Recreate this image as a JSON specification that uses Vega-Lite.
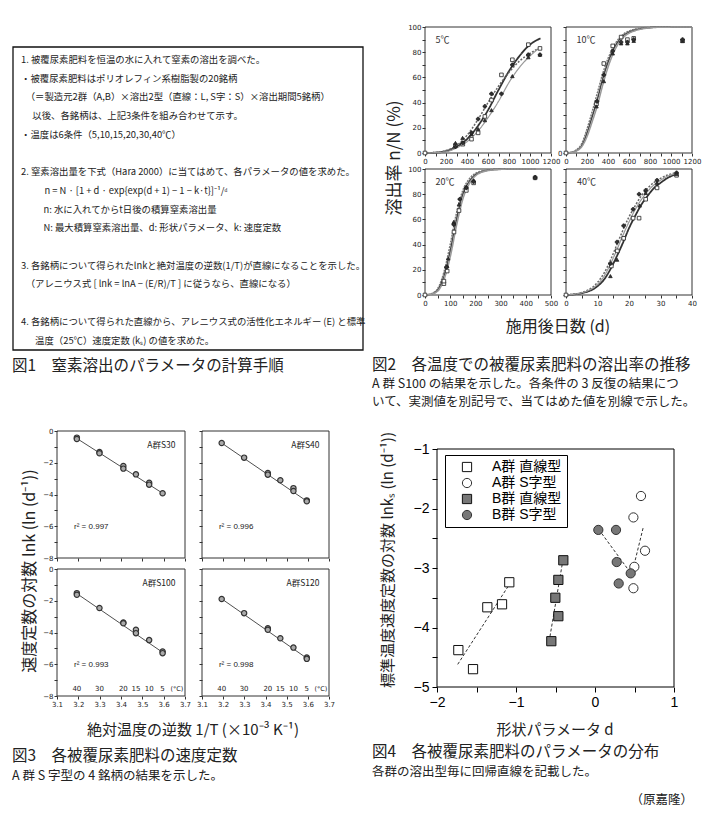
{
"$schema": "https://vega.github.io/schema/vega-lite/v6.json",
"width": 705, "height": 820,
"autosize": {"type": "none"},
"padding": 0,
"background": "white",
"datasets": {
"box": [
{"line":1,"t":"1. 被覆尿素肥料を恒温の水に入れて窒素の溶出を調べた。"},
{"line":2,"t":"・被覆尿素肥料はポリオレフィン系樹脂製の20銘柄"},
{"line":3,"t":"\u200b\u2002（＝製造元2群（A,B）×溶出2型（直線：L, S字：S）×溶出期間5銘柄）"},
{"line":4,"t":"\u200b\u3000\u2009以後、各銘柄は、上記3条件を組み合わせて示す。"},
{"line":5,"t":"・温度は6条件（5,10,15,20,30,40℃）"},
{"line":7,"t":"2. 窒素溶出量を下式（Hara 2000）に当てはめて、各パラメータの値を求めた。"},
{"line":8,"t":"\u200b\u3000\u3000\u2002n = N · [1 + d · exp{exp(d + 1) − 1 − k·t}]⁻¹/ᵈ"},
{"line":9,"t":"\u200b\u3000\u3000\u2009\u2009n: 水に入れてからt日後の積算窒素溶出量"},
{"line":10,"t":"\u200b\u3000\u3000\u2009\u2009N: 最大積算窒素溶出量、d: 形状パラメータ、k: 速度定数"},
{"line":12,"t":"3. 各銘柄について得られたlnkと絶対温度の逆数(1/T)が直線になることを示した。"},
{"line":13,"t":"\u200b\u3000（アレニウス式 [ lnk = lnA − (E/R)/T ] に従うなら、直線になる）"},
{"line":15,"t":"4. 各銘柄について得られた直線から、アレニウス式の活性化エネルギー (E) と標準"},
{"line":16,"t":"\u200b\u3000\u2002温度（25℃）速度定数 (kₛ) の値を求めた。"}
],
"f2c": [
{"p":"5","c":"c1","d":0,"v":0},{"p":"5","c":"c1","d":100,"v":0.3},{"p":"5","c":"c1","d":200,"v":1.5},{"p":"5","c":"c1","d":300,"v":5},{"p":"5","c":"c1","d":400,"v":11},{"p":"5","c":"c1","d":500,"v":21},{"p":"5","c":"c1","d":600,"v":34},{"p":"5","c":"c1","d":700,"v":50},{"p":"5","c":"c1","d":800,"v":65},{"p":"5","c":"c1","d":900,"v":77},{"p":"5","c":"c1","d":1000,"v":86},{"p":"5","c":"c1","d":1100,"v":91},
{"p":"5","c":"c2","d":0,"v":0},{"p":"5","c":"c2","d":100,"v":0.5},{"p":"5","c":"c2","d":200,"v":2},{"p":"5","c":"c2","d":300,"v":6},{"p":"5","c":"c2","d":400,"v":14},{"p":"5","c":"c2","d":500,"v":26},{"p":"5","c":"c2","d":600,"v":40},{"p":"5","c":"c2","d":700,"v":53},{"p":"5","c":"c2","d":800,"v":64},{"p":"5","c":"c2","d":900,"v":73},{"p":"5","c":"c2","d":1000,"v":79},{"p":"5","c":"c2","d":1100,"v":84},
{"p":"5","c":"c3","d":0,"v":0},{"p":"5","c":"c3","d":100,"v":0.3},{"p":"5","c":"c3","d":200,"v":1},{"p":"5","c":"c3","d":300,"v":4},{"p":"5","c":"c3","d":400,"v":9},{"p":"5","c":"c3","d":500,"v":17},{"p":"5","c":"c3","d":600,"v":28},{"p":"5","c":"c3","d":700,"v":41},{"p":"5","c":"c3","d":800,"v":56},{"p":"5","c":"c3","d":900,"v":68},{"p":"5","c":"c3","d":1000,"v":77},{"p":"5","c":"c3","d":1100,"v":84},
{"p":"10","c":"c1","d":0,"v":0},{"p":"10","c":"c1","d":50,"v":0.5},{"p":"10","c":"c1","d":100,"v":2},{"p":"10","c":"c1","d":150,"v":6},{"p":"10","c":"c1","d":200,"v":16},{"p":"10","c":"c1","d":250,"v":29},{"p":"10","c":"c1","d":300,"v":43},{"p":"10","c":"c1","d":350,"v":59},{"p":"10","c":"c1","d":400,"v":72},{"p":"10","c":"c1","d":450,"v":82},{"p":"10","c":"c1","d":500,"v":89},{"p":"10","c":"c1","d":550,"v":93.5},{"p":"10","c":"c1","d":600,"v":96},{"p":"10","c":"c1","d":700,"v":98.5},{"p":"10","c":"c1","d":800,"v":99.5},{"p":"10","c":"c1","d":900,"v":100},{"p":"10","c":"c1","d":1200,"v":100},
{"p":"10","c":"c2","d":0,"v":0},{"p":"10","c":"c2","d":50,"v":0.6},{"p":"10","c":"c2","d":100,"v":2.5},{"p":"10","c":"c2","d":150,"v":7.5},{"p":"10","c":"c2","d":200,"v":19},{"p":"10","c":"c2","d":250,"v":33},{"p":"10","c":"c2","d":300,"v":48},{"p":"10","c":"c2","d":350,"v":63},{"p":"10","c":"c2","d":400,"v":75},{"p":"10","c":"c2","d":450,"v":84},{"p":"10","c":"c2","d":500,"v":90.5},{"p":"10","c":"c2","d":550,"v":94.5},{"p":"10","c":"c2","d":600,"v":96.8},{"p":"10","c":"c2","d":700,"v":99},{"p":"10","c":"c2","d":800,"v":99.7},{"p":"10","c":"c2","d":900,"v":100},{"p":"10","c":"c2","d":1200,"v":100},
{"p":"10","c":"c3","d":0,"v":0},{"p":"10","c":"c3","d":50,"v":0.4},{"p":"10","c":"c3","d":100,"v":1.6},{"p":"10","c":"c3","d":150,"v":5},{"p":"10","c":"c3","d":200,"v":13},{"p":"10","c":"c3","d":250,"v":25},{"p":"10","c":"c3","d":300,"v":38},{"p":"10","c":"c3","d":350,"v":54},{"p":"10","c":"c3","d":400,"v":68},{"p":"10","c":"c3","d":450,"v":79},{"p":"10","c":"c3","d":500,"v":87},{"p":"10","c":"c3","d":550,"v":92},{"p":"10","c":"c3","d":600,"v":95},{"p":"10","c":"c3","d":700,"v":98},{"p":"10","c":"c3","d":800,"v":99.3},{"p":"10","c":"c3","d":900,"v":99.8},{"p":"10","c":"c3","d":1200,"v":100},
{"p":"20","c":"c1","d":0,"v":0},{"p":"20","c":"c1","d":25,"v":0.8},{"p":"20","c":"c1","d":50,"v":4},{"p":"20","c":"c1","d":75,"v":15},{"p":"20","c":"c1","d":100,"v":35},{"p":"20","c":"c1","d":125,"v":60},{"p":"20","c":"c1","d":150,"v":80},{"p":"20","c":"c1","d":175,"v":90},{"p":"20","c":"c1","d":200,"v":95.5},{"p":"20","c":"c1","d":250,"v":99},{"p":"20","c":"c1","d":300,"v":99.8},{"p":"20","c":"c1","d":350,"v":100},{"p":"20","c":"c1","d":440,"v":100},
{"p":"20","c":"c2","d":0,"v":0},{"p":"20","c":"c2","d":25,"v":1},{"p":"20","c":"c2","d":50,"v":5},{"p":"20","c":"c2","d":75,"v":18},{"p":"20","c":"c2","d":100,"v":40},{"p":"20","c":"c2","d":125,"v":65},{"p":"20","c":"c2","d":150,"v":83},{"p":"20","c":"c2","d":175,"v":92},{"p":"20","c":"c2","d":200,"v":96.5},{"p":"20","c":"c2","d":250,"v":99.3},{"p":"20","c":"c2","d":300,"v":99.9},{"p":"20","c":"c2","d":350,"v":100},{"p":"20","c":"c2","d":440,"v":100},
{"p":"20","c":"c3","d":0,"v":0},{"p":"20","c":"c3","d":25,"v":0.6},{"p":"20","c":"c3","d":50,"v":3},{"p":"20","c":"c3","d":75,"v":12},{"p":"20","c":"c3","d":100,"v":30},{"p":"20","c":"c3","d":125,"v":55},{"p":"20","c":"c3","d":150,"v":76},{"p":"20","c":"c3","d":175,"v":88},{"p":"20","c":"c3","d":200,"v":94.5},{"p":"20","c":"c3","d":250,"v":98.7},{"p":"20","c":"c3","d":300,"v":99.7},{"p":"20","c":"c3","d":350,"v":100},{"p":"20","c":"c3","d":440,"v":100},
{"p":"40","c":"c1","d":0,"v":0},{"p":"40","c":"c1","d":5,"v":1.5},{"p":"40","c":"c1","d":10,"v":7},{"p":"40","c":"c1","d":12,"v":12},{"p":"40","c":"c1","d":14,"v":20},{"p":"40","c":"c1","d":16,"v":30},{"p":"40","c":"c1","d":18,"v":41},{"p":"40","c":"c1","d":20,"v":53},{"p":"40","c":"c1","d":22,"v":63},{"p":"40","c":"c1","d":24,"v":72},{"p":"40","c":"c1","d":26,"v":79},{"p":"40","c":"c1","d":28,"v":85},{"p":"40","c":"c1","d":30,"v":89},{"p":"40","c":"c1","d":32,"v":92.5},{"p":"40","c":"c1","d":35,"v":96},
{"p":"40","c":"c2","d":0,"v":0},{"p":"40","c":"c2","d":5,"v":2},{"p":"40","c":"c2","d":10,"v":10},{"p":"40","c":"c2","d":12,"v":17},{"p":"40","c":"c2","d":14,"v":27},{"p":"40","c":"c2","d":16,"v":39},{"p":"40","c":"c2","d":18,"v":51},{"p":"40","c":"c2","d":20,"v":62},{"p":"40","c":"c2","d":22,"v":71},{"p":"40","c":"c2","d":24,"v":79},{"p":"40","c":"c2","d":26,"v":85},{"p":"40","c":"c2","d":28,"v":89.5},{"p":"40","c":"c2","d":30,"v":92.5},{"p":"40","c":"c2","d":32,"v":95},{"p":"40","c":"c2","d":35,"v":97},
{"p":"40","c":"c3","d":0,"v":0},{"p":"40","c":"c3","d":5,"v":1.8},{"p":"40","c":"c3","d":10,"v":8.5},{"p":"40","c":"c3","d":12,"v":14.5},{"p":"40","c":"c3","d":14,"v":24},{"p":"40","c":"c3","d":16,"v":35},{"p":"40","c":"c3","d":18,"v":47},{"p":"40","c":"c3","d":20,"v":58},{"p":"40","c":"c3","d":22,"v":68},{"p":"40","c":"c3","d":24,"v":76},{"p":"40","c":"c3","d":26,"v":82.5},{"p":"40","c":"c3","d":28,"v":87.5},{"p":"40","c":"c3","d":30,"v":91},{"p":"40","c":"c3","d":32,"v":94},{"p":"40","c":"c3","d":35,"v":96.5}
],
"f2p": [
{"p":"5","r":"sq","d":0,"v":0},{"p":"5","r":"sq","d":290,"v":6},{"p":"5","r":"sq","d":360,"v":7},{"p":"5","r":"sq","d":443,"v":11},{"p":"5","r":"sq","d":506,"v":16},{"p":"5","r":"sq","d":570,"v":29},{"p":"5","r":"sq","d":633,"v":42},{"p":"5","r":"sq","d":728,"v":62},{"p":"5","r":"sq","d":832,"v":74},{"p":"5","r":"sq","d":984,"v":86},{"p":"5","r":"sq","d":1095,"v":83},
{"p":"5","r":"tri","d":290,"v":8},{"p":"5","r":"tri","d":358,"v":12},{"p":"5","r":"tri","d":443,"v":15},{"p":"5","r":"tri","d":506,"v":19},{"p":"5","r":"tri","d":570,"v":26},{"p":"5","r":"tri","d":633,"v":34},{"p":"5","r":"tri","d":832,"v":61},{"p":"5","r":"tri","d":984,"v":76},{"p":"5","r":"tri","d":1095,"v":78},
{"p":"5","r":"star","d":290,"v":5},{"p":"5","r":"star","d":360,"v":8},{"p":"5","r":"star","d":443,"v":16},{"p":"5","r":"star","d":506,"v":27},{"p":"5","r":"star","d":570,"v":37},{"p":"5","r":"star","d":633,"v":47},{"p":"5","r":"star","d":728,"v":47},{"p":"5","r":"star","d":832,"v":70},{"p":"5","r":"star","d":984,"v":78},{"p":"5","r":"star","d":1095,"v":78},
{"p":"10","r":"sq","d":0,"v":0},{"p":"10","r":"sq","d":290,"v":39},{"p":"10","r":"sq","d":360,"v":71},{"p":"10","r":"sq","d":445,"v":85},{"p":"10","r":"sq","d":525,"v":92},{"p":"10","r":"sq","d":585,"v":90},{"p":"10","r":"sq","d":645,"v":91},{"p":"10","r":"sq","d":1110,"v":89},
{"p":"10","r":"tri","d":290,"v":37},{"p":"10","r":"tri","d":360,"v":57},{"p":"10","r":"tri","d":445,"v":79},{"p":"10","r":"tri","d":525,"v":87},{"p":"10","r":"tri","d":585,"v":87},{"p":"10","r":"tri","d":645,"v":89},{"p":"10","r":"tri","d":1110,"v":89},
{"p":"10","r":"star","d":295,"v":41},{"p":"10","r":"star","d":360,"v":62},{"p":"10","r":"star","d":445,"v":81},{"p":"10","r":"star","d":525,"v":88},{"p":"10","r":"star","d":585,"v":88},{"p":"10","r":"star","d":645,"v":90},{"p":"10","r":"star","d":1110,"v":90},
{"p":"20","r":"sq","d":0,"v":0},{"p":"20","r":"sq","d":75,"v":9},{"p":"20","r":"sq","d":75,"v":11},{"p":"20","r":"sq","d":88,"v":19},{"p":"20","r":"sq","d":115,"v":50},{"p":"20","r":"sq","d":135,"v":67},{"p":"20","r":"sq","d":164,"v":83},{"p":"20","r":"sq","d":193,"v":89},{"p":"20","r":"sq","d":437,"v":93},
{"p":"20","r":"tri","d":88,"v":23},{"p":"20","r":"tri","d":92,"v":29},{"p":"20","r":"tri","d":114,"v":58},{"p":"20","r":"tri","d":135,"v":72},{"p":"20","r":"tri","d":164,"v":86},{"p":"20","r":"tri","d":193,"v":91},{"p":"20","r":"tri","d":437,"v":94},
{"p":"20","r":"star","d":85,"v":22},{"p":"20","r":"star","d":114,"v":56},{"p":"20","r":"star","d":138,"v":76},{"p":"20","r":"star","d":164,"v":85},{"p":"20","r":"star","d":193,"v":90},{"p":"20","r":"star","d":437,"v":93},
{"p":"40","r":"sq","d":0,"v":0},{"p":"40","r":"sq","d":14.4,"v":23},{"p":"40","r":"sq","d":16.3,"v":35},{"p":"40","r":"sq","d":18.3,"v":45},{"p":"40","r":"sq","d":21.3,"v":61},{"p":"40","r":"sq","d":23.2,"v":61},{"p":"40","r":"sq","d":25.3,"v":76},{"p":"40","r":"sq","d":28.9,"v":85},{"p":"40","r":"sq","d":35.1,"v":95},
{"p":"40","r":"star","d":14.1,"v":25},{"p":"40","r":"star","d":16.2,"v":42},{"p":"40","r":"star","d":18.3,"v":55},{"p":"40","r":"star","d":21.3,"v":68},{"p":"40","r":"star","d":23.2,"v":80},{"p":"40","r":"star","d":25.3,"v":83},{"p":"40","r":"star","d":28.9,"v":91},{"p":"40","r":"star","d":35.1,"v":97},
{"p":"40","r":"tri","d":14.1,"v":15},{"p":"40","r":"tri","d":16.2,"v":28},{"p":"40","r":"tri","d":23.4,"v":71},{"p":"40","r":"tri","d":25.3,"v":81},{"p":"40","r":"tri","d":28.9,"v":89},{"p":"40","r":"tri","d":35.1,"v":96}
],
"f3p": [
{"p":"S30","x":3.193,"y":-0.42},{"p":"S30","x":3.193,"y":-0.5},{"p":"S30","x":3.299,"y":-1.32},{"p":"S30","x":3.299,"y":-1.4},{"p":"S30","x":3.411,"y":-2.2},{"p":"S30","x":3.411,"y":-2.37},{"p":"S30","x":3.47,"y":-2.73},{"p":"S30","x":3.532,"y":-3.26},{"p":"S30","x":3.532,"y":-3.38},{"p":"S30","x":3.595,"y":-3.92},
{"p":"S40","x":3.193,"y":-0.76},{"p":"S40","x":3.299,"y":-1.68},{"p":"S40","x":3.411,"y":-2.65},{"p":"S40","x":3.411,"y":-2.75},{"p":"S40","x":3.47,"y":-3.1},{"p":"S40","x":3.532,"y":-3.6},{"p":"S40","x":3.532,"y":-3.78},{"p":"S40","x":3.595,"y":-4.37},{"p":"S40","x":3.595,"y":-4.43},
{"p":"S100","x":3.193,"y":-1.52},{"p":"S100","x":3.193,"y":-1.62},{"p":"S100","x":3.299,"y":-2.46},{"p":"S100","x":3.411,"y":-3.37},{"p":"S100","x":3.411,"y":-3.42},{"p":"S100","x":3.47,"y":-3.83},{"p":"S100","x":3.47,"y":-4.04},{"p":"S100","x":3.532,"y":-4.48},{"p":"S100","x":3.595,"y":-5.2},{"p":"S100","x":3.595,"y":-5.3},
{"p":"S120","x":3.193,"y":-1.89},{"p":"S120","x":3.299,"y":-2.78},{"p":"S120","x":3.411,"y":-3.73},{"p":"S120","x":3.411,"y":-3.83},{"p":"S120","x":3.47,"y":-4.36},{"p":"S120","x":3.532,"y":-4.95},{"p":"S120","x":3.595,"y":-5.58},{"p":"S120","x":3.595,"y":-5.66}
],
"f3l": [
{"p":"S30","x":3.193,"y":-0.47},{"p":"S30","x":3.595,"y":-3.92},
{"p":"S40","x":3.193,"y":-0.76},{"p":"S40","x":3.595,"y":-4.42},
{"p":"S100","x":3.193,"y":-1.55},{"p":"S100","x":3.595,"y":-5.25},
{"p":"S120","x":3.193,"y":-1.88},{"p":"S120","x":3.595,"y":-5.62}
],
"f3lab": [
{"p":"S30","name":"A群S30","r2":"r² = 0.997"},
{"p":"S40","name":"A群S40","r2":"r² = 0.996"},
{"p":"S100","name":"A群S100","r2":"r² = 0.993"},
{"p":"S120","name":"A群S120","r2":"r² = 0.998"}
],
"f3t": [
{"t":"40","x":3.193},{"t":"30","x":3.299},{"t":"20","x":3.411},{"t":"15","x":3.47},{"t":"10","x":3.532},{"t":"5","x":3.595}
],
"f4p": [
{"g":"A群 直線型","d":-1.085,"k":-3.24},{"g":"A群 直線型","d":-1.363,"k":-3.66},{"g":"A群 直線型","d":-1.177,"k":-3.61},{"g":"A群 直線型","d":-1.73,"k":-4.38},{"g":"A群 直線型","d":-1.544,"k":-4.7},
{"g":"A群 S字型","d":0.582,"k":-1.79},{"g":"A群 S字型","d":0.486,"k":-2.15},{"g":"A群 S字型","d":0.633,"k":-2.71},{"g":"A群 S字型","d":0.498,"k":-2.98},{"g":"A群 S字型","d":0.486,"k":-3.34},
{"g":"B群 直線型","d":-0.401,"k":-2.87},{"g":"B群 直線型","d":-0.464,"k":-3.2},{"g":"B群 直線型","d":-0.502,"k":-3.5},{"g":"B群 直線型","d":-0.464,"k":-3.81},{"g":"B群 直線型","d":-0.553,"k":-4.23},
{"g":"B群 S字型","d":0.042,"k":-2.36},{"g":"B群 S字型","d":0.266,"k":-2.36},{"g":"B群 S字型","d":0.275,"k":-2.9},{"g":"B群 S字型","d":0.452,"k":-3.09},{"g":"B群 S字型","d":0.3,"k":-3.26}
],
"f4l": [
{"g":"A群 直線型","d":-1.738,"k":-4.62},{"g":"A群 直線型","d":-1.076,"k":-3.26},
{"g":"B群 直線型","d":-0.57,"k":-4.15},{"g":"B群 直線型","d":-0.409,"k":-2.89},
{"g":"A群 S字型","d":0.494,"k":-2.95},{"g":"A群 S字型","d":0.612,"k":-2.31},
{"g":"B群 S字型","d":0.085,"k":-2.42},{"g":"B群 S字型","d":0.422,"k":-3.03}
]
},
"layer": [
{"data": {"values": [{}]}, "mark": {"type": "rect", "filled": false, "stroke": "#111", "strokeWidth": 1.3},
 "encoding": {"x": {"datum": 0, "type": "quantitative", "scale": {"domain": [0, 1], "range": [13, 363], "nice": false, "zero": false}, "axis": null}, "x2": {"datum": 1},
  "y": {"datum": 0, "type": "quantitative", "scale": {"domain": [0, 1], "range": [47, 350], "nice": false, "zero": false}, "axis": null}, "y2": {"datum": 1}}},
{"data": {"name": "box"}, "mark": {"type": "text", "align": "left", "baseline": "middle", "fontSize": 9.4, "color": "#222"},
 "encoding": {"x": {"datum": 0, "type": "quantitative", "scale": {"domain": [0, 1], "range": [21, 363], "nice": false, "zero": false}, "axis": null},
  "y": {"field": "line", "type": "quantitative", "scale": {"domain": [1, 16], "range": [60, 340.5], "nice": false, "zero": false}, "axis": null},
  "text": {"field": "t"}}},
{"data": {"values": [{"line": 1, "t": "図1　窒素溶出のパラメータの計算手順"}]}, "mark": {"type": "text", "align": "left", "baseline": "middle", "fontSize": 15.5, "color": "#222"},
 "encoding": {"x": {"datum": 0, "type": "quantitative", "scale": {"domain": [0, 1], "range": [12, 360], "nice": false, "zero": false}, "axis": null},
  "y": {"field": "line", "type": "quantitative", "scale": {"domain": [1, 2], "range": [366, 384], "nice": false, "zero": false}, "axis": null},
  "text": {"field": "t"}}},

{"data": {"values": [{}]}, "mark": {"type": "rect", "filled": false, "stroke": "#333", "strokeWidth": 1},
 "encoding": {"x": {"datum": 0, "type": "quantitative", "scale": {"domain": [0, 1200], "range": [425, 551], "nice": false, "zero": false}, "axis": null}, "x2": {"datum": 1200},
  "y": {"datum": 0, "type": "quantitative", "scale": {"domain": [0, 100], "range": [153, 27], "nice": false, "zero": false}, "axis": null}, "y2": {"datum": 100}}},
{"data": {"name": "f2c"}, "transform": [{"filter": "datum.p=='5'"}], "mark": {"type": "line", "interpolate": "monotone"},
 "encoding": {"x": {"field": "d", "type": "quantitative", "scale": {"domain": [0, 1200], "range": [425, 551], "nice": false, "zero": false}, "axis": {"title": null, "orient": "bottom", "offset": -667, "values": [0, 100, 200, 300, 400, 500, 600, 700, 800, 900, 1000, 1100, 1200], "format": "d", "labelExpr": "datum.value % 200 == 0 ? datum.label : ''"}},
  "y": {"field": "v", "type": "quantitative", "scale": {"domain": [0, 100], "range": [153, 27], "nice": false, "zero": false}, "axis": {"title": null, "orient": "left", "offset": -425, "values": [0, 10, 20, 30, 40, 50, 60, 70, 80, 90, 100], "labelExpr": "datum.value % 20 == 0 ? datum.label : ''"}},
  "detail": {"field": "c"},
  "color": {"field": "c", "type": "nominal", "scale": {"domain": ["c1", "c2", "c3"], "range": ["#333", "#666", "#999"]}, "legend": null},
  "strokeWidth": {"field": "c", "type": "nominal", "scale": {"domain": ["c1", "c2", "c3"], "range": [1.8, 1.2, 1]}, "legend": null},
  "strokeDash": {"field": "c", "type": "nominal", "scale": {"domain": ["c1", "c2", "c3"], "range": [[1, 0], [2, 1.5], [1, 0]]}, "legend": null}}},
{"data": {"name": "f2p"}, "transform": [{"filter": "datum.p=='5'"}], "mark": {"type": "point", "filled": true, "stroke": "#222", "strokeWidth": 0.8, "size": 13, "opacity": 1},
 "encoding": {"x": {"field": "d", "type": "quantitative", "scale": {"domain": [0, 1200], "range": [425, 551], "nice": false, "zero": false}, "axis": null}, "y": {"field": "v", "type": "quantitative", "scale": {"domain": [0, 100], "range": [153, 27], "nice": false, "zero": false}, "axis": null},
  "shape": {"field": "r", "type": "nominal", "scale": {"domain": ["sq", "tri", "star"], "range": ["square", "triangle-up", "cross"]}, "legend": null},
  "fill": {"field": "r", "type": "nominal", "scale": {"domain": ["sq", "tri", "star"], "range": ["#fff", "#333", "#333"]}, "legend": null}}},
{"data": {"values": [{"t": "5℃"}]}, "mark": {"type": "text", "align": "left", "baseline": "middle", "fontSize": 9, "color": "#333"},
 "encoding": {"x": {"datum": 100, "type": "quantitative", "scale": {"domain": [0, 1200], "range": [425, 551], "nice": false, "zero": false}, "axis": null}, "y": {"datum": 90, "type": "quantitative", "scale": {"domain": [0, 100], "range": [153, 27], "nice": false, "zero": false}, "axis": null}, "text": {"field": "t"}}},

{"data": {"values": [{}]}, "mark": {"type": "rect", "filled": false, "stroke": "#333", "strokeWidth": 1},
 "encoding": {"x": {"datum": 0, "type": "quantitative", "scale": {"domain": [0, 1200], "range": [566, 692], "nice": false, "zero": false}, "axis": null}, "x2": {"datum": 1200},
  "y": {"datum": 0, "type": "quantitative", "scale": {"domain": [0, 100], "range": [153, 27], "nice": false, "zero": false}, "axis": null}, "y2": {"datum": 100}}},
{"data": {"name": "f2c"}, "transform": [{"filter": "datum.p=='10'"}], "mark": {"type": "line", "interpolate": "monotone"},
 "encoding": {"x": {"field": "d", "type": "quantitative", "scale": {"domain": [0, 1200], "range": [566, 692], "nice": false, "zero": false}, "axis": {"title": null, "orient": "bottom", "offset": -667, "values": [0, 100, 200, 300, 400, 500, 600, 700, 800, 900, 1000, 1100, 1200], "format": "d", "labelExpr": "datum.value % 200 == 0 ? datum.label : ''"}},
  "y": {"field": "v", "type": "quantitative", "scale": {"domain": [0, 100], "range": [153, 27], "nice": false, "zero": false}, "axis": {"title": null, "orient": "left", "offset": -566, "values": [0, 10, 20, 30, 40, 50, 60, 70, 80, 90, 100], "labelExpr": "datum.value == 0 ? '0' : ''"}},
  "detail": {"field": "c"},
  "color": {"field": "c", "type": "nominal", "scale": {"domain": ["c1", "c2", "c3"], "range": ["#444", "#777", "#999"]}, "legend": null},
  "strokeWidth": {"field": "c", "type": "nominal", "scale": {"domain": ["c1", "c2", "c3"], "range": [1.5, 1.5, 1.5]}, "legend": null},
  "strokeDash": {"field": "c", "type": "nominal", "scale": {"domain": ["c1", "c2", "c3"], "range": [[1, 0], [2, 1], [1, 0]]}, "legend": null}}},
{"data": {"name": "f2p"}, "transform": [{"filter": "datum.p=='10'"}], "mark": {"type": "point", "filled": true, "stroke": "#222", "strokeWidth": 0.8, "size": 13, "opacity": 1},
 "encoding": {"x": {"field": "d", "type": "quantitative", "scale": {"domain": [0, 1200], "range": [566, 692], "nice": false, "zero": false}, "axis": null}, "y": {"field": "v", "type": "quantitative", "scale": {"domain": [0, 100], "range": [153, 27], "nice": false, "zero": false}, "axis": null},
  "shape": {"field": "r", "type": "nominal", "scale": {"domain": ["sq", "tri", "star"], "range": ["square", "triangle-up", "cross"]}, "legend": null},
  "fill": {"field": "r", "type": "nominal", "scale": {"domain": ["sq", "tri", "star"], "range": ["#fff", "#333", "#333"]}, "legend": null}}},
{"data": {"values": [{"t": "10℃"}]}, "mark": {"type": "text", "align": "left", "baseline": "middle", "fontSize": 9, "color": "#333"},
 "encoding": {"x": {"datum": 100, "type": "quantitative", "scale": {"domain": [0, 1200], "range": [566, 692], "nice": false, "zero": false}, "axis": null}, "y": {"datum": 90, "type": "quantitative", "scale": {"domain": [0, 100], "range": [153, 27], "nice": false, "zero": false}, "axis": null}, "text": {"field": "t"}}},

{"data": {"values": [{}]}, "mark": {"type": "rect", "filled": false, "stroke": "#333", "strokeWidth": 1},
 "encoding": {"x": {"datum": 0, "type": "quantitative", "scale": {"domain": [0, 500], "range": [425, 551], "nice": false, "zero": false}, "axis": null}, "x2": {"datum": 500},
  "y": {"datum": 0, "type": "quantitative", "scale": {"domain": [0, 100], "range": [295, 169], "nice": false, "zero": false}, "axis": null}, "y2": {"datum": 100}}},
{"data": {"name": "f2c"}, "transform": [{"filter": "datum.p=='20'"}], "mark": {"type": "line", "interpolate": "monotone"},
 "encoding": {"x": {"field": "d", "type": "quantitative", "scale": {"domain": [0, 500], "range": [425, 551], "nice": false, "zero": false}, "axis": {"title": null, "orient": "bottom", "offset": -525, "values": [0, 50, 100, 150, 200, 250, 300, 350, 400, 450, 500], "format": "d", "labelExpr": "datum.value % 100 == 0 ? datum.label : ''"}},
  "y": {"field": "v", "type": "quantitative", "scale": {"domain": [0, 100], "range": [295, 169], "nice": false, "zero": false}, "axis": {"title": null, "orient": "left", "offset": -425, "values": [0, 10, 20, 30, 40, 50, 60, 70, 80, 90, 100], "labelExpr": "datum.value % 20 == 0 ? datum.label : ''"}},
  "detail": {"field": "c"},
  "color": {"field": "c", "type": "nominal", "scale": {"domain": ["c1", "c2", "c3"], "range": ["#444", "#777", "#999"]}, "legend": null},
  "strokeWidth": {"field": "c", "type": "nominal", "scale": {"domain": ["c1", "c2", "c3"], "range": [1.5, 1.5, 1.5]}, "legend": null},
  "strokeDash": {"field": "c", "type": "nominal", "scale": {"domain": ["c1", "c2", "c3"], "range": [[1, 0], [2, 1], [1, 0]]}, "legend": null}}},
{"data": {"name": "f2p"}, "transform": [{"filter": "datum.p=='20'"}], "mark": {"type": "point", "filled": true, "stroke": "#222", "strokeWidth": 0.8, "size": 13, "opacity": 1},
 "encoding": {"x": {"field": "d", "type": "quantitative", "scale": {"domain": [0, 500], "range": [425, 551], "nice": false, "zero": false}, "axis": null}, "y": {"field": "v", "type": "quantitative", "scale": {"domain": [0, 100], "range": [295, 169], "nice": false, "zero": false}, "axis": null},
  "shape": {"field": "r", "type": "nominal", "scale": {"domain": ["sq", "tri", "star"], "range": ["square", "triangle-up", "cross"]}, "legend": null},
  "fill": {"field": "r", "type": "nominal", "scale": {"domain": ["sq", "tri", "star"], "range": ["#fff", "#333", "#333"]}, "legend": null}}},
{"data": {"values": [{"t": "20℃"}]}, "mark": {"type": "text", "align": "left", "baseline": "middle", "fontSize": 9, "color": "#333"},
 "encoding": {"x": {"datum": 42, "type": "quantitative", "scale": {"domain": [0, 500], "range": [425, 551], "nice": false, "zero": false}, "axis": null}, "y": {"datum": 90, "type": "quantitative", "scale": {"domain": [0, 100], "range": [295, 169], "nice": false, "zero": false}, "axis": null}, "text": {"field": "t"}}},

{"data": {"values": [{}]}, "mark": {"type": "rect", "filled": false, "stroke": "#333", "strokeWidth": 1},
 "encoding": {"x": {"datum": 0, "type": "quantitative", "scale": {"domain": [0, 40], "range": [566, 692], "nice": false, "zero": false}, "axis": null}, "x2": {"datum": 40},
  "y": {"datum": 0, "type": "quantitative", "scale": {"domain": [0, 100], "range": [295, 169], "nice": false, "zero": false}, "axis": null}, "y2": {"datum": 100}}},
{"data": {"name": "f2c"}, "transform": [{"filter": "datum.p=='40'"}], "mark": {"type": "line", "interpolate": "monotone"},
 "encoding": {"x": {"field": "d", "type": "quantitative", "scale": {"domain": [0, 40], "range": [566, 692], "nice": false, "zero": false}, "axis": {"title": null, "orient": "bottom", "offset": -525, "values": [0, 5, 10, 15, 20, 25, 30, 35, 40], "format": "d", "labelExpr": "datum.value % 10 == 0 ? datum.label : ''"}},
  "y": {"field": "v", "type": "quantitative", "scale": {"domain": [0, 100], "range": [295, 169], "nice": false, "zero": false}, "axis": {"title": null, "orient": "left", "offset": -566, "values": [0, 10, 20, 30, 40, 50, 60, 70, 80, 90, 100], "labels": false}},
  "detail": {"field": "c"},
  "color": {"field": "c", "type": "nominal", "scale": {"domain": ["c1", "c2", "c3"], "range": ["#333", "#666", "#999"]}, "legend": null},
  "strokeWidth": {"field": "c", "type": "nominal", "scale": {"domain": ["c1", "c2", "c3"], "range": [1.8, 1.2, 1]}, "legend": null},
  "strokeDash": {"field": "c", "type": "nominal", "scale": {"domain": ["c1", "c2", "c3"], "range": [[1, 0], [2, 1.5], [1, 0]]}, "legend": null}}},
{"data": {"name": "f2p"}, "transform": [{"filter": "datum.p=='40'"}], "mark": {"type": "point", "filled": true, "stroke": "#222", "strokeWidth": 0.8, "size": 13, "opacity": 1},
 "encoding": {"x": {"field": "d", "type": "quantitative", "scale": {"domain": [0, 40], "range": [566, 692], "nice": false, "zero": false}, "axis": null}, "y": {"field": "v", "type": "quantitative", "scale": {"domain": [0, 100], "range": [295, 169], "nice": false, "zero": false}, "axis": null},
  "shape": {"field": "r", "type": "nominal", "scale": {"domain": ["sq", "tri", "star"], "range": ["square", "triangle-up", "cross"]}, "legend": null},
  "fill": {"field": "r", "type": "nominal", "scale": {"domain": ["sq", "tri", "star"], "range": ["#fff", "#333", "#333"]}, "legend": null}}},
{"data": {"values": [{"t": "40℃"}]}, "mark": {"type": "text", "align": "left", "baseline": "middle", "fontSize": 9, "color": "#333"},
 "encoding": {"x": {"datum": 3.5, "type": "quantitative", "scale": {"domain": [0, 40], "range": [566, 692], "nice": false, "zero": false}, "axis": null}, "y": {"datum": 90, "type": "quantitative", "scale": {"domain": [0, 100], "range": [295, 169], "nice": false, "zero": false}, "axis": null}, "text": {"field": "t"}}},

{"data": {"values": [{"t": "溶出率 n/N (%)"}]}, "mark": {"type": "text", "angle": 270, "align": "center", "baseline": "middle", "fontSize": 17, "color": "#222"},
 "encoding": {"x": {"datum": 0, "type": "quantitative", "scale": {"domain": [0, 1], "range": [395, 396], "nice": false, "zero": false}, "axis": null},
  "y": {"datum": 0, "type": "quantitative", "scale": {"domain": [0, 1], "range": [158, 159], "nice": false, "zero": false}, "axis": null}, "text": {"field": "t"}}},
{"data": {"values": [{"t": "施用後日数 (d)"}]}, "mark": {"type": "text", "align": "center", "baseline": "middle", "fontSize": 16, "color": "#222"},
 "encoding": {"x": {"datum": 0, "type": "quantitative", "scale": {"domain": [0, 1], "range": [558, 559], "nice": false, "zero": false}, "axis": null},
  "y": {"datum": 0, "type": "quantitative", "scale": {"domain": [0, 1], "range": [327, 328], "nice": false, "zero": false}, "axis": null}, "text": {"field": "t"}}},
{"data": {"values": [{"line": 1, "t": "図2　各温度での被覆尿素肥料の溶出率の推移"}, {"line": 2, "t": "A 群 S100 の結果を示した。各条件の 3 反復の結果につ"}, {"line": 3, "t": "いて、実測値を別記号で、当てはめた値を別線で示した。"}]},
 "encoding": {"x": {"datum": 0, "type": "quantitative", "scale": {"domain": [0, 1], "range": [372, 705], "nice": false, "zero": false}, "axis": null},
  "y": {"field": "line", "type": "quantitative", "scale": {"domain": [1, 3], "range": [365, 402], "nice": false, "zero": false}, "axis": null}, "text": {"field": "t"}},
 "layer": [
  {"transform": [{"filter": "datum.line == 1"}], "mark": {"type": "text", "align": "left", "baseline": "middle", "fontSize": 15.5, "color": "#222"}},
  {"transform": [{"filter": "datum.line > 1"}], "mark": {"type": "text", "align": "left", "baseline": "middle", "fontSize": 12.5, "color": "#222"}}
 ]},

{"data": {"values": [{}]}, "mark": {"type": "rect", "filled": false, "stroke": "#333", "strokeWidth": 1},
 "encoding": {"x": {"datum": 3.1, "type": "quantitative", "scale": {"domain": [3.1, 3.7], "range": [57, 185], "nice": false, "zero": false}, "axis": null}, "x2": {"datum": 3.7},
  "y": {"datum": -8, "type": "quantitative", "scale": {"domain": [-8, 0], "range": [558, 431], "nice": false, "zero": false}, "axis": null}, "y2": {"datum": 0}}},
{"data": {"name": "f3l"}, "transform": [{"filter": "datum.p=='S30'"}], "mark": {"type": "line", "color": "#222", "strokeWidth": 0.8},
 "encoding": {"x": {"field": "x", "type": "quantitative", "scale": {"domain": [3.1, 3.7], "range": [57, 185], "nice": false, "zero": false}, "axis": {"title": null, "orient": "bottom", "offset": -262, "values": [3.1, 3.2, 3.3, 3.4, 3.5, 3.6, 3.7], "labels": false}},
  "y": {"field": "y", "type": "quantitative", "scale": {"domain": [-8, 0], "range": [558, 431], "nice": false, "zero": false}, "axis": {"title": null, "orient": "left", "offset": -57, "values": [0, -1, -2, -3, -4, -5, -6, -7, -8], "labelExpr": "datum.value % 2 == 0 ? datum.label : ''"}}}},
{"data": {"name": "f3p"}, "transform": [{"filter": "datum.p=='S30'"}], "mark": {"type": "point", "shape": "circle", "filled": true, "fill": "#aaa", "stroke": "#333", "strokeWidth": 1.2, "size": 28, "opacity": 1},
 "encoding": {"x": {"field": "x", "type": "quantitative", "scale": {"domain": [3.1, 3.7], "range": [57, 185], "nice": false, "zero": false}, "axis": null}, "y": {"field": "y", "type": "quantitative", "scale": {"domain": [-8, 0], "range": [558, 431], "nice": false, "zero": false}, "axis": null}}},
{"data": {"name": "f3lab"}, "transform": [{"filter": "datum.p=='S30'"}],
 "encoding": {"x": {"datum": 3.655, "type": "quantitative", "scale": {"domain": [3.1, 3.7], "range": [57, 185], "nice": false, "zero": false}, "axis": null}, "y": {"datum": -0.9, "type": "quantitative", "scale": {"domain": [-8, 0], "range": [558, 431], "nice": false, "zero": false}, "axis": null}},
 "layer": [
  {"mark": {"type": "text", "align": "right", "baseline": "middle", "fontSize": 8.5, "color": "#222"}, "encoding": {"text": {"field": "name"}}},
  {"mark": {"type": "text", "align": "left", "baseline": "middle", "fontSize": 8, "font": "Liberation Sans", "color": "#222"}, "encoding": {"x": {"datum": 3.18, "type": "quantitative"}, "y": {"datum": -6.05, "type": "quantitative"}, "text": {"field": "r2"}}}
 ]},

{"data": {"values": [{}]}, "mark": {"type": "rect", "filled": false, "stroke": "#333", "strokeWidth": 1},
 "encoding": {"x": {"datum": 3.1, "type": "quantitative", "scale": {"domain": [3.1, 3.7], "range": [202, 329], "nice": false, "zero": false}, "axis": null}, "x2": {"datum": 3.7},
  "y": {"datum": -8, "type": "quantitative", "scale": {"domain": [-8, 0], "range": [558, 431], "nice": false, "zero": false}, "axis": null}, "y2": {"datum": 0}}},
{"data": {"name": "f3l"}, "transform": [{"filter": "datum.p=='S40'"}], "mark": {"type": "line", "color": "#222", "strokeWidth": 0.8},
 "encoding": {"x": {"field": "x", "type": "quantitative", "scale": {"domain": [3.1, 3.7], "range": [202, 329], "nice": false, "zero": false}, "axis": {"title": null, "orient": "bottom", "offset": -262, "values": [3.1, 3.2, 3.3, 3.4, 3.5, 3.6, 3.7], "labels": false}},
  "y": {"field": "y", "type": "quantitative", "scale": {"domain": [-8, 0], "range": [558, 431], "nice": false, "zero": false}, "axis": {"title": null, "orient": "left", "offset": -202, "values": [0, -1, -2, -3, -4, -5, -6, -7, -8], "labels": false}}}},
{"data": {"name": "f3p"}, "transform": [{"filter": "datum.p=='S40'"}], "mark": {"type": "point", "shape": "circle", "filled": true, "fill": "#aaa", "stroke": "#333", "strokeWidth": 1.2, "size": 28, "opacity": 1},
 "encoding": {"x": {"field": "x", "type": "quantitative", "scale": {"domain": [3.1, 3.7], "range": [202, 329], "nice": false, "zero": false}, "axis": null}, "y": {"field": "y", "type": "quantitative", "scale": {"domain": [-8, 0], "range": [558, 431], "nice": false, "zero": false}, "axis": null}}},
{"data": {"name": "f3lab"}, "transform": [{"filter": "datum.p=='S40'"}],
 "encoding": {"x": {"datum": 3.655, "type": "quantitative", "scale": {"domain": [3.1, 3.7], "range": [202, 329], "nice": false, "zero": false}, "axis": null}, "y": {"datum": -0.9, "type": "quantitative", "scale": {"domain": [-8, 0], "range": [558, 431], "nice": false, "zero": false}, "axis": null}},
 "layer": [
  {"mark": {"type": "text", "align": "right", "baseline": "middle", "fontSize": 8.5, "color": "#222"}, "encoding": {"text": {"field": "name"}}},
  {"mark": {"type": "text", "align": "left", "baseline": "middle", "fontSize": 8, "font": "Liberation Sans", "color": "#222"}, "encoding": {"x": {"datum": 3.18, "type": "quantitative"}, "y": {"datum": -6.05, "type": "quantitative"}, "text": {"field": "r2"}}}
 ]},

{"data": {"values": [{}]}, "mark": {"type": "rect", "filled": false, "stroke": "#333", "strokeWidth": 1},
 "encoding": {"x": {"datum": 3.1, "type": "quantitative", "scale": {"domain": [3.1, 3.7], "range": [57, 185], "nice": false, "zero": false}, "axis": null}, "x2": {"datum": 3.7},
  "y": {"datum": -8, "type": "quantitative", "scale": {"domain": [-8, 0], "range": [696, 569], "nice": false, "zero": false}, "axis": null}, "y2": {"datum": 0}}},
{"data": {"name": "f3l"}, "transform": [{"filter": "datum.p=='S100'"}], "mark": {"type": "line", "color": "#222", "strokeWidth": 0.8},
 "encoding": {"x": {"field": "x", "type": "quantitative", "scale": {"domain": [3.1, 3.7], "range": [57, 185], "nice": false, "zero": false}, "axis": {"title": null, "orient": "bottom", "offset": -124, "values": [3.1, 3.2, 3.3, 3.4, 3.5, 3.6, 3.7], "format": ".1f"}},
  "y": {"field": "y", "type": "quantitative", "scale": {"domain": [-8, 0], "range": [696, 569], "nice": false, "zero": false}, "axis": {"title": null, "orient": "left", "offset": -57, "values": [0, -1, -2, -3, -4, -5, -6, -7, -8], "labelExpr": "datum.value % 2 == 0 ? datum.label : ''"}}}},
{"data": {"name": "f3p"}, "transform": [{"filter": "datum.p=='S100'"}], "mark": {"type": "point", "shape": "circle", "filled": true, "fill": "#aaa", "stroke": "#333", "strokeWidth": 1.2, "size": 28, "opacity": 1},
 "encoding": {"x": {"field": "x", "type": "quantitative", "scale": {"domain": [3.1, 3.7], "range": [57, 185], "nice": false, "zero": false}, "axis": null}, "y": {"field": "y", "type": "quantitative", "scale": {"domain": [-8, 0], "range": [696, 569], "nice": false, "zero": false}, "axis": null}}},
{"data": {"name": "f3lab"}, "transform": [{"filter": "datum.p=='S100'"}],
 "encoding": {"x": {"datum": 3.655, "type": "quantitative", "scale": {"domain": [3.1, 3.7], "range": [57, 185], "nice": false, "zero": false}, "axis": null}, "y": {"datum": -0.9, "type": "quantitative", "scale": {"domain": [-8, 0], "range": [696, 569], "nice": false, "zero": false}, "axis": null}},
 "layer": [
  {"mark": {"type": "text", "align": "right", "baseline": "middle", "fontSize": 8.5, "color": "#222"}, "encoding": {"text": {"field": "name"}}},
  {"mark": {"type": "text", "align": "left", "baseline": "middle", "fontSize": 8, "font": "Liberation Sans", "color": "#222"}, "encoding": {"x": {"datum": 3.18, "type": "quantitative"}, "y": {"datum": -6.05, "type": "quantitative"}, "text": {"field": "r2"}}}
 ]},
{"data": {"name": "f3t"}, "mark": {"type": "text", "align": "center", "baseline": "middle", "fontSize": 7, "font": "DejaVu Sans", "color": "#222"},
 "encoding": {"x": {"field": "x", "type": "quantitative", "scale": {"domain": [3.1, 3.7], "range": [57, 185], "nice": false, "zero": false}, "axis": null}, "y": {"datum": -7.55, "type": "quantitative", "scale": {"domain": [-8, 0], "range": [696, 569], "nice": false, "zero": false}, "axis": null}, "text": {"field": "t"}}},
{"data": {"values": [{"t": "(°C)"}]}, "mark": {"type": "text", "align": "center", "baseline": "middle", "fontSize": 6.5, "font": "DejaVu Sans", "color": "#222"},
 "encoding": {"x": {"datum": 3.662, "type": "quantitative", "scale": {"domain": [3.1, 3.7], "range": [57, 185], "nice": false, "zero": false}, "axis": null}, "y": {"datum": -7.55, "type": "quantitative", "scale": {"domain": [-8, 0], "range": [696, 569], "nice": false, "zero": false}, "axis": null}, "text": {"field": "t"}}},

{"data": {"values": [{}]}, "mark": {"type": "rect", "filled": false, "stroke": "#333", "strokeWidth": 1},
 "encoding": {"x": {"datum": 3.1, "type": "quantitative", "scale": {"domain": [3.1, 3.7], "range": [202, 329], "nice": false, "zero": false}, "axis": null}, "x2": {"datum": 3.7},
  "y": {"datum": -8, "type": "quantitative", "scale": {"domain": [-8, 0], "range": [696, 569], "nice": false, "zero": false}, "axis": null}, "y2": {"datum": 0}}},
{"data": {"name": "f3l"}, "transform": [{"filter": "datum.p=='S120'"}], "mark": {"type": "line", "color": "#222", "strokeWidth": 0.8},
 "encoding": {"x": {"field": "x", "type": "quantitative", "scale": {"domain": [3.1, 3.7], "range": [202, 329], "nice": false, "zero": false}, "axis": {"title": null, "orient": "bottom", "offset": -124, "values": [3.1, 3.2, 3.3, 3.4, 3.5, 3.6, 3.7], "format": ".1f"}},
  "y": {"field": "y", "type": "quantitative", "scale": {"domain": [-8, 0], "range": [696, 569], "nice": false, "zero": false}, "axis": {"title": null, "orient": "left", "offset": -202, "values": [0, -1, -2, -3, -4, -5, -6, -7, -8], "labels": false}}}},
{"data": {"name": "f3p"}, "transform": [{"filter": "datum.p=='S120'"}], "mark": {"type": "point", "shape": "circle", "filled": true, "fill": "#aaa", "stroke": "#333", "strokeWidth": 1.2, "size": 28, "opacity": 1},
 "encoding": {"x": {"field": "x", "type": "quantitative", "scale": {"domain": [3.1, 3.7], "range": [202, 329], "nice": false, "zero": false}, "axis": null}, "y": {"field": "y", "type": "quantitative", "scale": {"domain": [-8, 0], "range": [696, 569], "nice": false, "zero": false}, "axis": null}}},
{"data": {"name": "f3lab"}, "transform": [{"filter": "datum.p=='S120'"}],
 "encoding": {"x": {"datum": 3.655, "type": "quantitative", "scale": {"domain": [3.1, 3.7], "range": [202, 329], "nice": false, "zero": false}, "axis": null}, "y": {"datum": -0.9, "type": "quantitative", "scale": {"domain": [-8, 0], "range": [696, 569], "nice": false, "zero": false}, "axis": null}},
 "layer": [
  {"mark": {"type": "text", "align": "right", "baseline": "middle", "fontSize": 8.5, "color": "#222"}, "encoding": {"text": {"field": "name"}}},
  {"mark": {"type": "text", "align": "left", "baseline": "middle", "fontSize": 8, "font": "Liberation Sans", "color": "#222"}, "encoding": {"x": {"datum": 3.18, "type": "quantitative"}, "y": {"datum": -6.05, "type": "quantitative"}, "text": {"field": "r2"}}}
 ]},
{"data": {"name": "f3t"}, "mark": {"type": "text", "align": "center", "baseline": "middle", "fontSize": 7, "font": "DejaVu Sans", "color": "#222"},
 "encoding": {"x": {"field": "x", "type": "quantitative", "scale": {"domain": [3.1, 3.7], "range": [202, 329], "nice": false, "zero": false}, "axis": null}, "y": {"datum": -7.55, "type": "quantitative", "scale": {"domain": [-8, 0], "range": [696, 569], "nice": false, "zero": false}, "axis": null}, "text": {"field": "t"}}},
{"data": {"values": [{"t": "(°C)"}]}, "mark": {"type": "text", "align": "center", "baseline": "middle", "fontSize": 6.5, "font": "DejaVu Sans", "color": "#222"},
 "encoding": {"x": {"datum": 3.662, "type": "quantitative", "scale": {"domain": [3.1, 3.7], "range": [202, 329], "nice": false, "zero": false}, "axis": null}, "y": {"datum": -7.55, "type": "quantitative", "scale": {"domain": [-8, 0], "range": [696, 569], "nice": false, "zero": false}, "axis": null}, "text": {"field": "t"}}},

{"data": {"values": [{"t": "速度定数の対数 lnk (ln (d⁻¹))"}]}, "mark": {"type": "text", "angle": 270, "align": "center", "baseline": "middle", "fontSize": 16, "color": "#222"},
 "encoding": {"x": {"datum": 0, "type": "quantitative", "scale": {"domain": [0, 1], "range": [30, 31], "nice": false, "zero": false}, "axis": null},
  "y": {"datum": 0, "type": "quantitative", "scale": {"domain": [0, 1], "range": [571, 572], "nice": false, "zero": false}, "axis": null}, "text": {"field": "t"}}},
{"data": {"values": [{"t": "絶対温度の逆数 1/T (×10⁻³ K⁻¹)"}]}, "mark": {"type": "text", "align": "center", "baseline": "middle", "fontSize": 15, "color": "#222"},
 "encoding": {"x": {"datum": 0, "type": "quantitative", "scale": {"domain": [0, 1], "range": [193, 194], "nice": false, "zero": false}, "axis": null},
  "y": {"datum": 0, "type": "quantitative", "scale": {"domain": [0, 1], "range": [730, 731], "nice": false, "zero": false}, "axis": null}, "text": {"field": "t"}}},
{"data": {"values": [{"line": 1, "t": "図3　各被覆尿素肥料の速度定数"}, {"line": 2, "t": "A 群 S 字型の 4 銘柄の結果を示した。"}]},
 "encoding": {"x": {"datum": 0, "type": "quantitative", "scale": {"domain": [0, 1], "range": [12, 360], "nice": false, "zero": false}, "axis": null},
  "y": {"field": "line", "type": "quantitative", "scale": {"domain": [1, 2], "range": [756, 776], "nice": false, "zero": false}, "axis": null}, "text": {"field": "t"}},
 "layer": [
  {"transform": [{"filter": "datum.line == 1"}], "mark": {"type": "text", "align": "left", "baseline": "middle", "fontSize": 15.5, "color": "#222"}},
  {"transform": [{"filter": "datum.line == 2"}], "mark": {"type": "text", "align": "left", "baseline": "middle", "fontSize": 12.5, "color": "#222"}}
 ]},

{"data": {"values": [{}]}, "mark": {"type": "rect", "filled": false, "stroke": "#000", "strokeWidth": 1},
 "encoding": {"x": {"datum": -2, "type": "quantitative", "scale": {"domain": [-2, 1], "range": [437, 674], "nice": false, "zero": false}, "axis": null}, "x2": {"datum": 1},
  "y": {"datum": -5, "type": "quantitative", "scale": {"domain": [-5, -1], "range": [687, 449], "nice": false, "zero": false}, "axis": null}, "y2": {"datum": -1}}},
{"data": {"name": "f4l"}, "mark": {"type": "line", "color": "#333", "strokeWidth": 1, "strokeDash": [3, 2]},
 "encoding": {"x": {"field": "d", "type": "quantitative", "scale": {"domain": [-2, 1], "range": [437, 674], "nice": false, "zero": false}, "axis": {"title": null, "orient": "bottom", "offset": -133, "values": [-2, -1.5, -1, -0.5, 0, 0.5, 1], "format": ".0f", "labelExpr": "datum.value % 1 == 0 ? datum.label : ''", "labelFontSize": 14, "labelFont": "Liberation Sans", "tickSize": 5, "labelPadding": 3, "tickColor": "#000", "labelColor": "#000"}},
  "y": {"field": "k", "type": "quantitative", "scale": {"domain": [-5, -1], "range": [687, 449], "nice": false, "zero": false}, "axis": {"title": null, "orient": "left", "offset": -437, "values": [-5, -4.5, -4, -3.5, -3, -2.5, -2, -1.5, -1], "format": ".0f", "labelExpr": "datum.value % 1 == 0 ? datum.label : ''", "labelFontSize": 14, "labelFont": "Liberation Sans", "tickSize": 5, "labelPadding": 3, "tickColor": "#000", "labelColor": "#000"}},
  "detail": {"field": "g"}}},
{"data": {"name": "f4p"}, "mark": {"type": "point", "filled": true, "size": 85, "opacity": 1},
 "encoding": {"x": {"field": "d", "type": "quantitative", "scale": {"domain": [-2, 1], "range": [437, 674], "nice": false, "zero": false}, "axis": null}, "y": {"field": "k", "type": "quantitative", "scale": {"domain": [-5, -1], "range": [687, 449], "nice": false, "zero": false}, "axis": null},
  "shape": {"field": "g", "type": "nominal", "scale": {"domain": ["A群 直線型", "A群 S字型", "B群 直線型", "B群 S字型"], "range": ["square", "circle", "square", "circle"]},
   "legend": {"title": null, "orient": "none", "legendX": 445, "legendY": 455, "direction": "vertical", "padding": 5, "strokeColor": "#000", "fillColor": "#fff", "labelFontSize": 14, "labelFont": "Liberation Sans, Noto Sans CJK JP", "labelColor": "#000", "symbolOffset": 10, "labelOffset": 18, "rowPadding": 2, "symbolSize": 85, "symbolStrokeWidth": 1, "labelExpr": "datum.label + '\u00a0\u00a0\u00a0\u00a0\u00a0'"}},
  "fill": {"field": "g", "type": "nominal", "scale": {"domain": ["A群 直線型", "A群 S字型", "B群 直線型", "B群 S字型"], "range": ["#fff", "#fff", "#777", "#777"]},
   "legend": {"title": null, "orient": "none", "legendX": 445, "legendY": 455, "direction": "vertical", "padding": 5, "strokeColor": "#000", "fillColor": "#fff", "labelFontSize": 14, "labelFont": "Liberation Sans, Noto Sans CJK JP", "labelColor": "#000", "symbolOffset": 10, "labelOffset": 18, "rowPadding": 2, "symbolSize": 85, "symbolStrokeWidth": 1, "labelExpr": "datum.label + '\u00a0\u00a0\u00a0\u00a0\u00a0'"}},
  "stroke": {"field": "g", "type": "nominal", "scale": {"domain": ["A群 直線型", "A群 S字型", "B群 直線型", "B群 S字型"], "range": ["#111", "#333", "#111", "#333"]},
   "legend": {"title": null, "orient": "none", "legendX": 445, "legendY": 455, "direction": "vertical", "padding": 5, "strokeColor": "#000", "fillColor": "#fff", "labelFontSize": 14, "labelFont": "Liberation Sans, Noto Sans CJK JP", "labelColor": "#000", "symbolOffset": 10, "labelOffset": 18, "rowPadding": 2, "symbolSize": 85, "symbolStrokeWidth": 1, "labelExpr": "datum.label + '\u00a0\u00a0\u00a0\u00a0\u00a0'"}},
  "strokeWidth": {"value": 1}}},

{"data": {"values": [{"t": "標準温度速度定数の対数 lnkₛ (ln (d⁻¹))"}]}, "mark": {"type": "text", "angle": 270, "align": "center", "baseline": "middle", "fontSize": 15, "color": "#222"},
 "encoding": {"x": {"datum": 0, "type": "quantitative", "scale": {"domain": [0, 1], "range": [388, 389], "nice": false, "zero": false}, "axis": null},
  "y": {"datum": 0, "type": "quantitative", "scale": {"domain": [0, 1], "range": [560, 561], "nice": false, "zero": false}, "axis": null}, "text": {"field": "t"}}},
{"data": {"values": [{"t": "形状パラメータ d"}]}, "mark": {"type": "text", "align": "center", "baseline": "middle", "fontSize": 15, "color": "#222"},
 "encoding": {"x": {"datum": 0, "type": "quantitative", "scale": {"domain": [0, 1], "range": [555, 556], "nice": false, "zero": false}, "axis": null},
  "y": {"datum": 0, "type": "quantitative", "scale": {"domain": [0, 1], "range": [730, 731], "nice": false, "zero": false}, "axis": null}, "text": {"field": "t"}}},
{"data": {"values": [{"line": 1, "t": "図4　各被覆尿素肥料のパラメータの分布"}, {"line": 2, "t": "各群の溶出型毎に回帰直線を記載した。"}]},
 "encoding": {"x": {"datum": 0, "type": "quantitative", "scale": {"domain": [0, 1], "range": [372, 693], "nice": false, "zero": false}, "axis": null},
  "y": {"field": "line", "type": "quantitative", "scale": {"domain": [1, 2], "range": [752, 772], "nice": false, "zero": false}, "axis": null}, "text": {"field": "t"}},
 "layer": [
  {"transform": [{"filter": "datum.line == 1"}], "mark": {"type": "text", "align": "left", "baseline": "middle", "fontSize": 15.5, "color": "#222"}},
  {"transform": [{"filter": "datum.line == 2"}], "mark": {"type": "text", "align": "left", "baseline": "middle", "fontSize": 12.5, "color": "#222"}}
 ]},
{"data": {"values": [{"t": "（原嘉隆）"}]}, "mark": {"type": "text", "align": "right", "baseline": "middle", "fontSize": 12.5, "color": "#222"},
 "encoding": {"x": {"datum": 1, "type": "quantitative", "scale": {"domain": [0, 1], "range": [372, 693], "nice": false, "zero": false}, "axis": null},
  "y": {"datum": 0, "type": "quantitative", "scale": {"domain": [0, 1], "range": [800, 801], "nice": false, "zero": false}, "axis": null}, "text": {"field": "t"}}}
],
"resolve": {
 "scale": {"x": "independent", "y": "independent", "color": "independent", "fill": "independent", "stroke": "independent", "shape": "independent", "strokeDash": "independent", "strokeWidth": "independent", "size": "independent"},
 "axis": {"x": "independent", "y": "independent"}
},
"config": {
 "view": {"stroke": null},
 "font": "Noto Sans CJK JP",
 "text": {"font": "Noto Sans CJK JP"},
 "legend": {"strokeColor": "#000"},
 "axis": {"grid": false, "domain": false, "labelFont": "DejaVu Sans", "labelFontSize": 7, "labelColor": "#222", "tickColor": "#333", "tickSize": 3, "labelPadding": 1, "labelOverlap": false, "labelFlush": false}
}
}
